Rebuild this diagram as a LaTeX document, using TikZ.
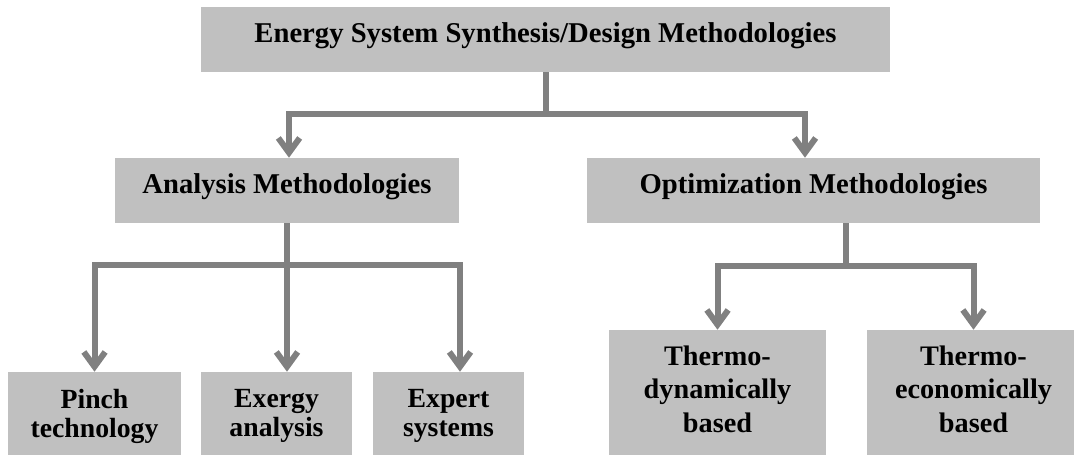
\documentclass[tikz,border=0pt]{standalone}
\usepackage{fontspec}
\setmainfont{Liberation Serif}
\usetikzlibrary{arrows.meta}
\definecolor{boxgray}{HTML}{C0C0C0}
\definecolor{linegray}{HTML}{808080}
\begin{document}
\begin{tikzpicture}[x=0.75pt,y=-0.75pt,
  box/.style={fill=boxgray, inner sep=0pt, align=center, text=black},
  headbox/.style={box, font=\fontsize{21.5}{24}\selectfont\bfseries,
    text height=15pt, text depth=10.5pt},
  leafbox/.style={box, font=\fontsize{20.8}{21.75}\selectfont\bfseries},
  thermotext/.style={inner sep=0pt, align=center, text=black,
    font=\fontsize{21.2}{25.1}\selectfont\bfseries},
  conn/.style={draw=linegray, line width=4.5pt},
  arr/.style={conn, -{Straight Barb[length=11pt,width=16pt,line width=4.5pt]}}]
\useasboundingbox (0,0) rectangle (1074,454);
\clip (0,0) rectangle (1074,454);

% boxes
\node[headbox, minimum width=516.75pt, minimum height=48.75pt] (top) at (545.5,39.5)
  {Energy System Synthesis/Design Methodologies};
\node[headbox, minimum width=258pt, minimum height=48.75pt] (ana) at (287,190.5)
  {Analysis Methodologies};
\node[headbox, minimum width=339.75pt, minimum height=48.75pt] (opt) at (813.5,190.5)
  {Optimization Methodologies};
\node[leafbox, minimum width=129.75pt, minimum height=66pt] (pinch) at (94.5,416)
  {Pinch\\technology};
\node[leafbox, minimum width=113.25pt, minimum height=66pt] (exergy) at (276.5,416)
  {Exergy\\analysis};
\node[leafbox, minimum width=113.25pt, minimum height=66pt] (expert) at (448.5,416)
  {Expert\\systems};
\node[box, minimum width=162.75pt, minimum height=97.5pt] (tdyn) at (717.5,395) {};
\node[box, minimum width=159.75pt, minimum height=97.5pt] (tecon) at (973.5,395) {};
\node[thermotext] (tdyntext) at ([yshift=4.5pt]tdyn.center)
  {Thermo-\\dynamically\\based};
\node[thermotext] (tecontext) at ([yshift=4.5pt]tecon.center)
  {Thermo-\\economically\\based};

% junction points of the tree
\coordinate (j1) at (545.5,114);
\coordinate (a1) at (289,0);
\coordinate (a2) at (805,0);
\coordinate (j2) at (287,265);
\coordinate (b3) at (460,0);
\coordinate (j3) at (846,266);

% first level
\draw[conn] (top.south) -- (j1);
\draw[arr] (j1) -| (a1 |- ana.north);
\draw[arr] (j1) -| (a2 |- opt.north);

% analysis branch
\draw[conn] (ana.south) -- (j2);
\draw[arr] (j2) -| (pinch.north);
\draw[arr] (j2) -- (j2 |- exergy.north);
\draw[arr] (j2) -| (b3 |- expert.north);

% optimization branch
\draw[conn] (j3 |- opt.south) -- (j3);
\draw[arr] (j3) -| (tdyn.north);
\draw[arr] (j3) -| (tecon.north);
\end{tikzpicture}
\end{document}
